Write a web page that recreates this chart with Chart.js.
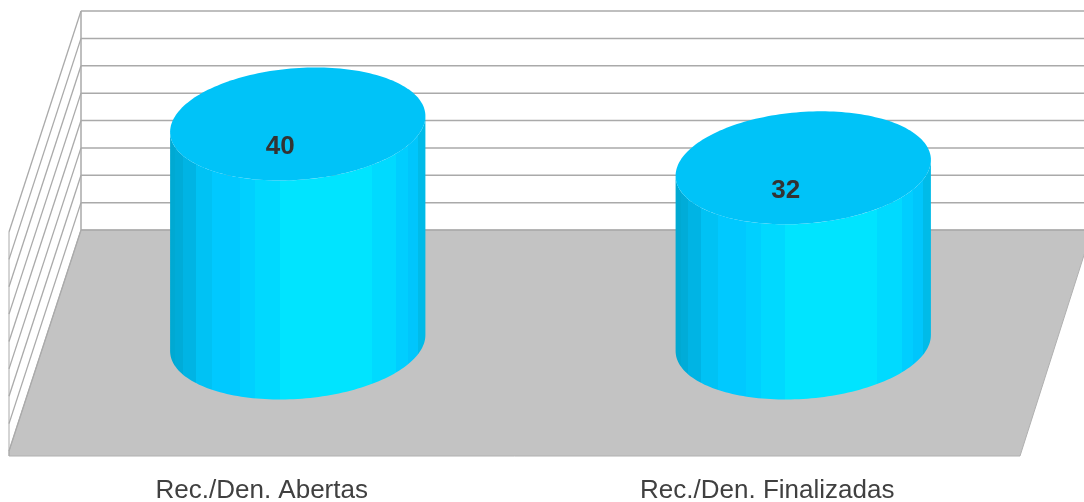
<!DOCTYPE html>
<html>
<head>
<meta charset="utf-8">
<style>
html, body { margin: 0; padding: 0; background: #fff; overflow: hidden; }
#wrap { width: 1084px; height: 502px; }
</style>
<script src="https://cdn.jsdelivr.net/npm/chart.js@4/dist/chart.umd.min.js"></script>
</head>
<body>
<div id="wrap"><canvas id="chart"></canvas></div>
<script>
const categories = ['Rec./Den. Abertas', 'Rec./Den. Finalizadas'];
const values = [40, 32];
const axisMax = 40;
const axisStep = 5;

// how far the back of the box sits from the front plane
const depthX = 72;
const depthY = -226;
// side wall starts a little above the front floor edge
const wallLift = 5;

// vertical shading of the cylinder, [end of stripe as share of width, colour]
const stripes = [
    [0.02, '#00a9d2'], [0.05, '#00acd8'], [0.10, '#00b4e4'], [0.165, '#00c2f4'],
    [0.275, '#00c9ff'], [0.333, '#00d0ff'], [0.43, '#00d9ff'], [0.79, '#00e4ff'],
    [0.885, '#00daff'], [0.93, '#00ceff'], [0.97, '#00c6fc'], [1, '#00bbe8']
];

function ellipsePoint(cx, cy, a, b, t) {
    const skew = depthX / depthY;
    return [cx + a * Math.cos(t) + skew * b * Math.sin(t), cy + b * Math.sin(t)];
}

const box3d = {
    id: 'box3d',
    beforeDatasetsDraw(chart) {
        const { ctx, chartArea: area, scales: { y } } = chart;
        ctx.save();

        // floor
        ctx.fillStyle = '#c3c3c3';
        ctx.strokeStyle = '#b0b0b0';
        ctx.lineWidth = 1;
        ctx.beginPath();
        ctx.moveTo(area.left, area.bottom);
        ctx.lineTo(area.right, area.bottom);
        ctx.lineTo(area.right + depthX, area.bottom + depthY);
        ctx.lineTo(area.left + depthX, area.bottom + depthY);
        ctx.lineTo(area.left, area.bottom - wallLift);
        ctx.closePath();
        ctx.fill();
        ctx.stroke();

        // walls
        ctx.strokeStyle = '#aaaaaa';
        y.ticks.forEach(tick => {
            const py = y.getPixelForValue(tick.value);
            ctx.lineWidth = 1.3;
            ctx.beginPath();
            ctx.moveTo(area.left, py - wallLift);
            ctx.lineTo(area.left + depthX, py + depthY);
            ctx.stroke();
            ctx.lineWidth = 1.5;
            ctx.beginPath();
            ctx.moveTo(area.left + depthX, py + depthY);
            ctx.lineTo(area.right + depthX, py + depthY);
            ctx.stroke();
        });
        ctx.lineWidth = 1;
        ctx.beginPath();
        ctx.moveTo(area.left, area.bottom);
        ctx.lineTo(area.left, area.top - wallLift);
        ctx.stroke();
        ctx.lineWidth = 1.5;
        ctx.beginPath();
        ctx.moveTo(area.left + depthX, area.bottom + depthY);
        ctx.lineTo(area.left + depthX, area.top + depthY);
        ctx.stroke();
        ctx.restore();
    },
    afterDatasetsDraw(chart) {
        const { ctx } = chart;
        chart.getDatasetMeta(0).data.forEach((bar, i) => {
            const a = bar.width / 2;
            const b = -depthY / 4;
            const cx = bar.x + depthX / 2;
            const topY = bar.y + depthY / 2;
            const baseY = bar.base + depthY / 2;
            const steps = 96;

            // find the horizontal reach of the skewed ellipse
            const skew = depthX / depthY;
            const reach = Math.sqrt(a * a + skew * skew * b * b);
            const tangent = Math.atan2(skew * b, a);

            const grad = ctx.createLinearGradient(cx - reach, 0, cx + reach, 0);
            let from = 0;
            stripes.forEach(([to, colour]) => {
                grad.addColorStop(from, colour);
                grad.addColorStop(to, colour);
                from = to;
            });

            ctx.save();
            ctx.fillStyle = grad;
            ctx.beginPath();
            for (let k = 0; k <= steps; k++) {
                const t = tangent + Math.PI * k / steps;
                const [px, py] = ellipsePoint(cx, baseY, a, b, t);
                if (k === 0) ctx.moveTo(px, py);
                else ctx.lineTo(px, py);
            }
            for (let k = 0; k <= steps; k++) {
                const t = tangent + Math.PI - Math.PI * k / steps;
                const [px, py] = ellipsePoint(cx, topY, a, b, t);
                ctx.lineTo(px, py);
            }
            ctx.closePath();
            ctx.fill();

            // lid
            ctx.fillStyle = '#00c3f8';
            ctx.beginPath();
            for (let k = 0; k < steps * 2; k++) {
                const [px, py] = ellipsePoint(cx, topY, a, b, Math.PI * k / steps);
                if (k === 0) ctx.moveTo(px, py);
                else ctx.lineTo(px, py);
            }
            ctx.closePath();
            ctx.fill();

            // value label
            ctx.fillStyle = '#333333';
            ctx.font = 'bold 26px "Liberation Sans"';
            ctx.textAlign = 'center';
            ctx.textBaseline = 'middle';
            ctx.fillText(String(values[i]), bar.x + depthX / 4 + 0.5, topY + b * 0.4);
            ctx.restore();
        });
    }
};

new Chart(document.getElementById('chart'), {
    type: 'bar',
    data: {
        labels: categories,
        datasets: [{
            data: values,
            backgroundColor: 'transparent',
            categoryPercentage: 1,
            barPercentage: 0.5
        }]
    },
    options: {
        responsive: true,
        maintainAspectRatio: false,
        animation: false,
        layout: { padding: { left: 9, right: 64, top: 237, bottom: 0 } },
        plugins: {
            legend: { display: false },
            tooltip: { enabled: false }
        },
        scales: {
            x: {
                grid: { display: false },
                border: { display: false },
                afterFit: scale => { scale.height = 46; },
                ticks: {
                    color: '#404040',
                    font: { family: '"Liberation Sans"', size: 26 },
                    padding: 11,
                    maxRotation: 0
                }
            },
            y: {
                display: false,
                min: 0,
                max: axisMax,
                ticks: { stepSize: axisStep }
            }
        }
    },
    plugins: [box3d]
});
</script>
</body>
</html>
